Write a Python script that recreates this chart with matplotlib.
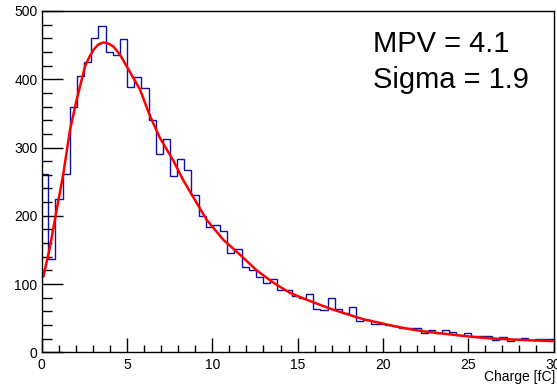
"""Charge spectrum with Landau fit, ROOT-style look."""
import numpy as np
import matplotlib

matplotlib.use("Agg")
import matplotlib.pyplot as plt  # noqa: E402
from matplotlib.ticker import MultipleLocator  # noqa: E402

plt.rcParams["font.family"] = ["Liberation Sans", "DejaVu Sans"]

# ---------------------------------------------------------------- data
bin_lo = -0.033      # lower edge of first bin [fC]
bin_width = 0.4197   # [fC]
counts = [261, 136, 224, 261, 360, 405, 426, 461, 478, 440,
          435, 459, 388, 404, 387, 340, 290, 312, 258, 283,
          267, 230, 200, 184, 186, 178, 145, 151, 125, 120,
          110, 101, 108, 92, 92, 82, 80, 85, 64, 62,
          79, 64, 58, 67, 46, 48, 42, 41, 40, 39,
          35, 35, 36, 29, 33, 28, 32, 30, 25, 29,
          24, 24, 24, 18, 22, 17, 19, 21, 18, 20,
          20, 19]

# fitted Landau curve
fit_x = [0.1, 0.49, 0.88, 1.27, 1.66, 2.05, 2.54, 2.8, 3.03, 3.32,
         3.61, 3.9, 4.2, 4.59, 4.98, 5.76, 6.35, 6.93, 7.71, 8.3,
         8.89, 9.67, 10.64, 11.62, 12.6, 13.58, 14.55, 15.53, 16.9, 17.88,
         18.85, 19.83, 20.81, 21.78, 22.76, 23.74, 24.71, 25.69, 26.67, 27.64,
         28.62, 29.95]
fit_y = [111, 155, 209, 262, 326, 370, 419, 433, 443, 451,
         454, 452.5, 448, 436, 419, 385, 346, 314, 281, 252,
         227, 194, 165, 143, 120, 102, 87, 77, 64, 56,
         48.5, 43, 37.5, 33, 29.5, 26.8, 24, 21.6, 19.8, 18.7,
         17.6, 16.4]

mpv, sigma = 4.1, 1.9

# ---------------------------------------------------------------- plot
W, H = 557, 385
fig = plt.figure(figsize=(W / 100, H / 100), dpi=100)
ax = fig.add_axes([41.7 / W, 1 - 352.3 / H, (553.5 - 41.7) / W, (352.3 - 11) / H])

edges = bin_lo + bin_width * np.arange(len(counts) + 1)
ax.stairs(counts, edges, color="#1010a0", lw=1.0)
ax.plot(fit_x, fit_y, color="#ff0000", lw=1.8, solid_capstyle="round",
        solid_joinstyle="round")

ax.set_xlim(0, 30)
ax.set_ylim(0, 500)

ax.xaxis.set_major_locator(MultipleLocator(5))
ax.xaxis.set_minor_locator(MultipleLocator(1))
ax.yaxis.set_major_locator(MultipleLocator(100))
ax.yaxis.set_minor_locator(MultipleLocator(20))
ax.tick_params(which="both", direction="in", top=False, right=False,
               labelsize=10, width=1.0, color="black")
ax.tick_params(axis="x", which="major", length=10, pad=4)
ax.tick_params(axis="x", which="minor", length=5)
ax.tick_params(axis="y", which="major", length=15, pad=3)
ax.tick_params(axis="y", which="minor", length=7.5)
for s in ax.spines.values():
    s.set_linewidth(1.0)

# axis title, right aligned at the bottom edge like ROOT
fig.text(555 / W, 1 - 376.5 / H, "Charge [fC]", fontsize=10,
         ha="right", va="center")

fig.text(373 / W, 1 - 52 / H, f"MPV = {mpv}", fontsize=21, va="baseline")
fig.text(373 / W, 1 - 88 / H, f"Sigma = {sigma}", fontsize=21, va="baseline")

fig.savefig("out.png", dpi=100)
